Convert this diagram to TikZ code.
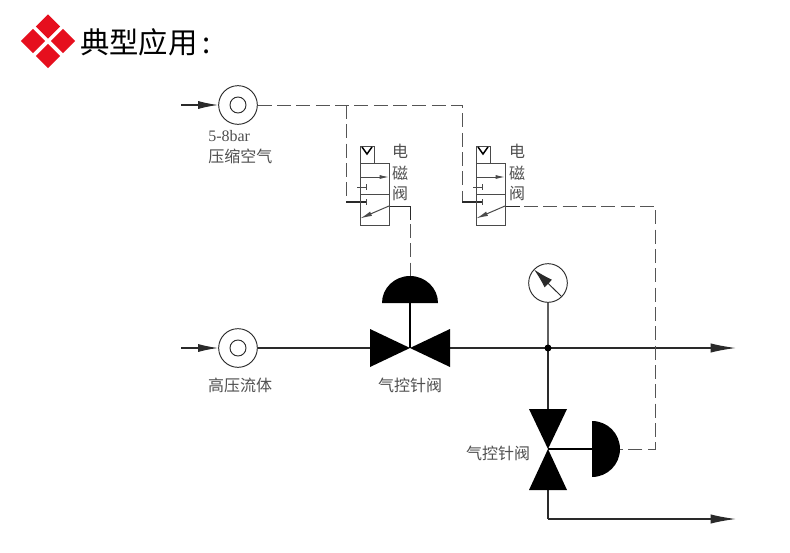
\documentclass[tikz,border=0pt]{standalone}
\usepackage{fontspec}
\setmainfont{Liberation Serif}
\newfontfamily\cjk{Noto Sans CJK SC}
\definecolor{inkline}{HTML}{2A2A2A}
\definecolor{labelink}{HTML}{505050}
\definecolor{logored}{HTML}{E60F1E}
\usetikzlibrary{arrows.meta,calc,shapes.geometric}
\tikzset{
  pipe/.style={draw=inkline,line width=0.95pt},
  thin pipe/.style={draw=inkline,line width=0.7pt},
  ctrl/.style={draw=inkline!80,line width=0.65pt,dash pattern=on 10.5pt off 4pt},
  flow/.style={pipe,-{Latex[length=19pt,width=7pt,inset=0pt]}},
  stem/.style={draw=black,line width=2.2pt},
  solid black/.style={fill=black,draw=none},
  port/.style={circle,draw=inkline,line width=0.7pt,minimum size=29pt,inner sep=0pt,fill=white},
  lbl/.style={font=\cjk\fontsize{12}{14}\selectfont,text=labelink,inner sep=0pt},
  vlbl/.style={font=\cjk\fontsize{12}{14}\selectfont,text=labelink,inner sep=0pt},
  gem/.style={diamond,fill=logored,minimum size=18.5pt,inner sep=0pt},
  solbox/.style={draw=inkline!85,line width=0.75pt},
}
\begin{document}
\begin{tikzpicture}[x=0.75pt,y=-0.75pt]
\useasboundingbox (0,0) rectangle (790,553);
\fill[white] (0,0) rectangle (790,553);
% logo
\node[gem] (g1) at (48,26.5) {};
\node[gem] (g2) at (33,41) {};
\node[gem] (g3) at (63,41) {};
\node[gem] (g4) at (48,56) {};
\node[font=\cjk\fontsize{22}{24}\selectfont,text=black,anchor=west,inner sep=0pt] (title) at (80,42) {典型应用\hspace{4pt}:};
% ports
\node[port] (src1) at (238,105) {};
\node[port,minimum size=12pt] (src1i) at (238,105) {};
\node[port] (src2) at (238,348) {};
\node[port,minimum size=12pt] (src2i) at (238,348) {};
\coordinate (in1) at (181,105);
\coordinate (in2) at (181,348);
\draw[pipe,-{Latex[length=15pt,width=6pt,inset=0pt]}] (in1) -- (src1.west);
\draw[pipe,-{Latex[length=15pt,width=6pt,inset=0pt]}] (in2) -- (src2.west);
% key points
\coordinate (v1) at (410,348);
\coordinate (v2) at (548,449);
\coordinate (tee) at (548,348);
\coordinate (out1) at (736,348);
\coordinate (out2) at (736,519);
\coordinate (bend2) at (548,519);
\coordinate (d1) at (410,303);
\coordinate (d1top) at (410,276);
\coordinate (d2) at (592,449);
\coordinate (d2tip) at (620,449);
\coordinate (j1) at (346,105);
\coordinate (j2) at (462,105);
% pipes
\draw[pipe] (src2.east) -- (370,348);
\draw[flow] (450,348) -- (out1);
\draw[pipe] (548,490) -- (bend2);
\draw[flow] (bend2) -- (out2);
% valve 1
\fill[solid black] (370,329) -- (v1) -- (370,367) -- cycle;
\fill[solid black] (450,329) -- (v1) -- (450,367) -- cycle;
\draw[stem] (d1) -- (v1);
\fill[solid black] (382,303) arc[start angle=180,end angle=360,x radius=28,y radius=27] -- cycle;
% valve 2
\fill[solid black] (529,409) -- (v2) -- (567,409) -- cycle;
\fill[solid black] (529,490) -- (v2) -- (567,490) -- cycle;
\draw[stem] (v2) -- (d2);
\fill[solid black] (592,421) arc[start angle=-90,end angle=90,x radius=28,y radius=28] -- cycle;
% gauge
\node[port] (gauge) at (548,283) {};
\draw[thin pipe,-{Latex[length=15pt,width=8pt,inset=0pt]}] (561.5,296.5) -- (534,269.5);
\draw[draw=inkline!75,line width=1pt] (gauge.south) -- (tee);
\draw[pipe] (tee) -- (548,409);
\fill[black] (tee) circle[radius=3.5];
% control lines
\draw[ctrl] (src1.east) -- (j2) -- (462,202) ;
\draw[ctrl] (j1) -- (346,202);
\draw[thin pipe,line width=1pt] (346,202) -- (366,202);
\draw[thin pipe,line width=1pt] (462,202) -- (482,202);
\draw[thin pipe] (389,206) -- (410,206) -- (410,220);
\draw[ctrl] (410,224) -- (d1top);
\draw[thin pipe] (505,206) -- (520,206);
\draw[ctrl] (524,206) -- (655,206) -- (655,449) -- (d2tip);
% solenoid valves
\foreach \o/\n in {0/a,116/b}{
  \begin{scope}[xshift=\o*0.75pt]
  \draw[solbox] (360,163) rectangle (389,225);
  \draw[solbox] (360,194) -- (389,194);
  \draw[solbox] (360,163) -- (360,146) -- (374,146) -- (374,163);
  \draw[black,line width=1.1pt] (362,147) -- (367,154) -- (372,147);
  \draw[solbox,-{Latex[length=7pt,width=3pt,inset=0pt]}] (360,177) -- (389,177);
  \draw[solbox] (357,187) -- (366,187) (366,184) -- (366,190);
  \draw[solbox] (366,199) -- (366,205);
  \draw[solbox,-{Latex[length=9pt,width=3.5pt,inset=0pt]}] (389,206) -- (360,218.5);
  \end{scope}
}
% labels
\node[font=\fontsize{12}{14}\selectfont,text=labelink,anchor=west,inner sep=0pt] (lb1) at (208,136) {5-8bar};
\node[lbl,anchor=west] (lb2) at (208,156) {压缩空气};
\node[lbl] (lb3) at (240,385) {高压流体};
\node[lbl] (lb4) at (410,385) {气控针阀};
\node[lbl] (lb5) at (498,453) {气控针阀};
\foreach \x/\n in {400/a,517/b}{
  \node[vlbl] (e\n) at (\x,151) {电};
  \node[vlbl] (c\n) at (\x,173) {磁};
  \node[vlbl] (f\n) at (\x,194) {阀};
}
\end{tikzpicture}
\end{document}
